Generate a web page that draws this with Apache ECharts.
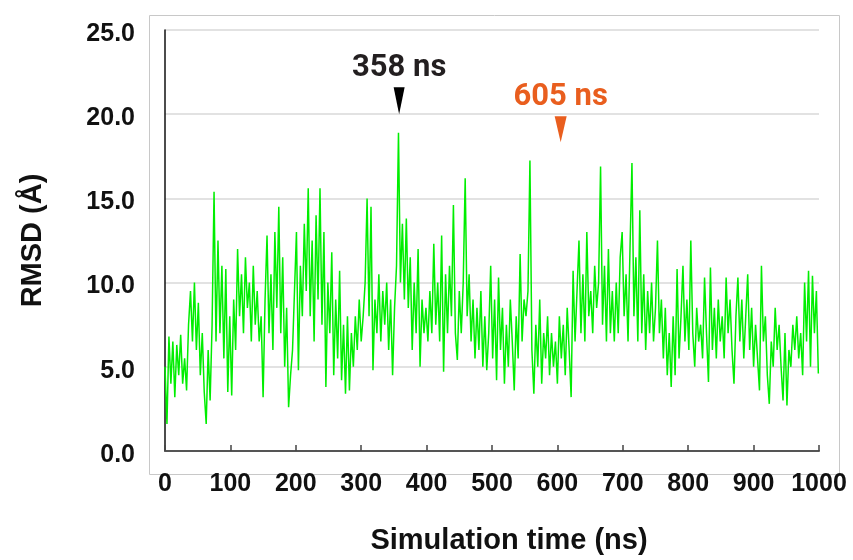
<!DOCTYPE html>
<html>
<head>
<meta charset="utf-8">
<script src="https://cdn.jsdelivr.net/npm/echarts@6/dist/echarts.min.js"></script>
<style>
html,body{margin:0;padding:0;background:#fff;}
#chart{width:853px;height:560px;}
</style>
</head>
<body>
<div id="chart"></div>
<script>
// Sampling step of the trajectory (ns)
const STEP_NS = 3;
// RMSD values (Å), one every STEP_NS ns, starting at 0 ns
const rmsd = [
  5.0,1.6,6.8,4.0,6.5,3.2,6.3,4.5,6.9,4.0,
  5.5,3.6,7.5,9.5,6.5,10.0,6.0,8.8,4.5,7.0,
  3.5,1.6,6.0,3.0,7.5,15.4,6.5,12.5,7.0,11.0,
  5.5,10.8,3.5,8.0,3.3,9.0,6.0,12.0,8.0,10.5,
  7.0,11.5,8.5,10.0,6.5,11.0,7.5,9.5,6.5,8.0,
  3.2,9.0,12.8,7.0,10.5,6.0,13.0,8.5,14.5,7.0,
  11.5,5.0,8.5,2.6,4.5,6.0,9.5,13.0,4.8,11.0,
  8.0,13.5,9.5,15.6,8.0,12.5,6.5,14.0,9.0,15.6,
  7.5,13.0,3.8,10.0,7.0,11.8,4.5,9.0,5.5,10.7,
  4.2,7.5,3.4,8.0,3.6,7.0,5.0,8.0,6.0,9.0,
  6.5,8.0,10.0,15.0,8.0,14.5,4.8,9.0,7.0,10.5,
  6.5,9.5,7.5,10.0,6.0,9.0,4.5,8.5,11.0,18.9,
  10.0,13.5,9.0,13.8,8.5,11.5,6.0,10.0,7.0,12.0,
  5.0,9.0,7.0,8.5,6.5,9.5,7.0,12.3,7.5,10.0,
  6.5,12.8,4.7,10.5,7.0,11.0,8.0,14.6,7.0,5.4,
  9.5,7.0,10.0,16.2,8.0,10.5,6.5,9.0,5.5,8.5,
  6.0,9.5,5.0,8.0,4.8,7.0,11.0,5.5,9.0,4.2,
  10.3,6.0,8.5,4.0,7.5,5.0,9.0,6.5,3.6,8.0,
  5.5,11.7,6.5,9.0,8.0,9.5,17.25,6.0,3.4,7.5,
  5.0,9.0,4.0,7.0,5.5,8.0,4.5,7.0,5.0,6.5,
  4.0,8.0,5.5,7.5,4.5,8.5,6.0,3.2,10.7,6.5,
  9.5,12.5,7.0,10.5,6.5,13.0,8.0,9.5,7.0,11.0,
  8.5,10.0,16.9,7.5,11.0,6.5,12.0,7.0,9.5,6.5,
  10.0,7.0,11.5,13.0,8.0,10.5,6.5,12.0,17.1,8.0,
  11.5,6.5,14.3,7.0,10.5,6.0,9.5,7.0,10.0,6.5,
  8.5,12.5,7.0,9.0,5.5,8.5,4.5,7.0,3.8,8.0,
  4.5,10.8,5.5,8.0,11.0,6.5,9.0,6.0,12.5,7.0,
  5.0,8.5,6.5,7.5,5.5,10.3,7.0,4.1,10.9,6.0,
  8.5,5.5,9.0,6.5,8.0,5.5,10.3,7.0,9.0,6.0,
  4.0,8.0,10.3,6.5,9.0,5.5,8.0,10.5,6.0,8.5,
  5.0,7.5,5.5,3.6,11.0,6.5,8.0,4.5,2.8,6.5,
  5.0,8.5,6.0,7.5,5.0,3.0,7.0,2.7,6.0,5.0,
  7.5,6.0,8.0,5.5,7.0,4.5,10.0,6.5,10.7,5.0,
  10.4,7.0,9.5,4.6
];
const timeNs = rmsd.map((_, i) => i * STEP_NS);

// Axis settings
const xMin = 0, xMax = 1000, xStep = 100;
const yMin = 0, yMax = 25, yStep = 5;

// Annotations: [time (ns), marker height (Å), label]
const marker1 = [358, 20.8, '358 ns'];
const marker2 = [605, 19.1, '605 ns'];

const lineData = timeNs.map((t, i) => [t, rmsd[i]]);

const chart = echarts.init(document.getElementById('chart'), null, {renderer: 'canvas'});
chart.setOption({
  animation: false,
  backgroundColor: '#ffffff',
  graphic: [{
    type: 'rect',
    left: 147, top: 13,
    shape: {width: 690, height: 459},
    style: {fill: 'none', stroke: '#c8c8c8', lineWidth: 1},
    z: -1
  }],
  grid: {left: 165, right: 34, top: 30, bottom: 105, containLabel: false},
  xAxis: {
    type: 'value',
    min: xMin, max: xMax, interval: xStep,
    name: 'Simulation time (ns)',
    nameLocation: 'middle',
    nameGap: 75,
    nameTextStyle: {fontFamily: 'Liberation Sans, Arial', fontWeight: 'bold', fontSize: 29, color: '#111', padding: [0, 0, 0, 34]},
    axisLine: {show: true, onZero: false, lineStyle: {color: '#555', width: 2}},
    axisTick: {show: true, inside: true, length: 6, lineStyle: {color: '#444', width: 1.5}},
    axisLabel: {fontFamily: 'Liberation Sans, Arial', fontWeight: 'bold', fontSize: 25, color: '#111', margin: 21,
      formatter: v => String(v)},
    splitLine: {show: false}
  },
  yAxis: {
    type: 'value',
    min: yMin, max: yMax, interval: yStep,
    name: 'RMSD (Å)',
    nameLocation: 'middle',
    nameGap: 118,
    nameTextStyle: {fontFamily: 'Liberation Sans, Arial', fontWeight: 'bold', fontSize: 29, color: '#111'},
    axisLine: {show: true, lineStyle: {color: '#111', width: 1.5}},
    axisTick: {show: false},
    axisLabel: {margin: 30,
      formatter: v => '{t|' + v.toFixed(1) + '}',
      rich: {t: {fontFamily: 'Liberation Sans, Arial', fontWeight: 'bold', fontSize: 25, color: '#111', padding: [8, 0, 0, 0]}}},
    splitLine: {show: true, lineStyle: {color: '#d9d9d9', width: 1.5}}
  },
  series: [{
    type: 'line',
    data: lineData,
    showSymbol: false,
    lineStyle: {color: '#00ee00', width: 1.5},
    itemStyle: {color: '#00ee00'},
    markPoint: {
      symbol: 'triangle',
      symbolRotate: 180,
      animation: false,
      data: [
        {coord: [marker1[0], marker1[1]], symbolSize: [11, 27],
          itemStyle: {color: '#000'},
          label: {show: true, position: 'top', distance: 3, formatter: marker1[2],
            fontFamily: 'Roboto', fontWeight: 'bold', fontSize: 31, color: '#231f20'}},
        {coord: [marker2[0], marker2[1]], symbolSize: [12, 26],
          itemStyle: {color: '#e95e1e'},
          label: {show: true, position: 'top', distance: 4, formatter: marker2[2],
            fontFamily: 'Roboto', fontWeight: 'bold', fontSize: 31, color: '#e95e1e'}}
      ]
    }
  }]
});
</script>
</body>
</html>
